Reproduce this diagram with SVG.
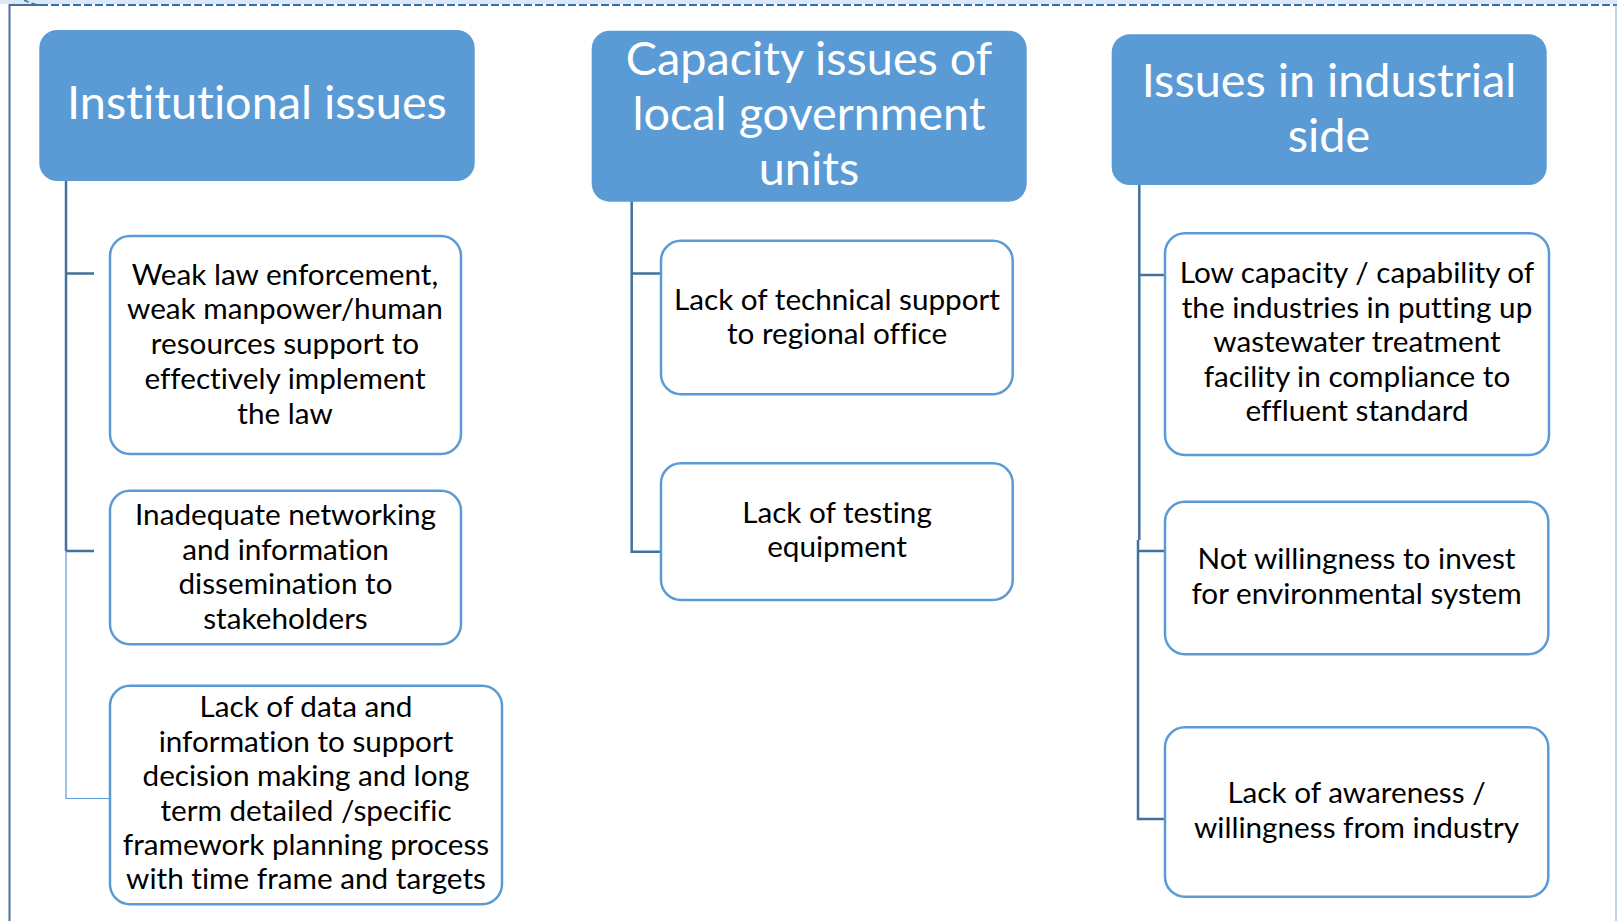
<svg xmlns="http://www.w3.org/2000/svg" width="1617" height="921" viewBox="0 0 1617 921">
  <style>
    text { font-variant-ligatures: none; font-feature-settings: "liga" 0, "clig" 0, "dlig" 0; }
    .hdr { fill: #5B9BD5; }
    .hdrt { fill: #FFFFFF; font-family: Lato, "Open Sans", sans-serif; font-size: 46.8px; text-anchor: middle; }
    .box { fill: #FFFFFF; stroke: #5B9BD5; stroke-width: 2.5; }
    .bt { fill: #000000; font-family: Lato, "Open Sans", sans-serif; font-size: 29.7px; text-anchor: middle; }
    .conn { fill: none; stroke: #41719C; stroke-width: 2.5; }
    .thin { fill: none; stroke: #5B9BD5; stroke-width: 1.2; }
  </style>
  <rect x="0" y="0" width="1617" height="921" fill="#FFFFFF"/>
  <g id="frame">
    <rect x="0" y="0" width="1617" height="4" fill="#DCE8F5"/>
    <line x1="40" y1="5" x2="1617" y2="5" stroke="#2E75B6" stroke-width="2" stroke-dasharray="8 3"/>
    <path d="M24 0 Q34 5 42 5" fill="none" stroke="#2E75B6" stroke-width="1.5" stroke-dasharray="5 3"/>
    <polyline points="40,5 9.5,5 9.5,921" fill="none" stroke="#4A6F9A" stroke-width="2"/>
    <line x1="1616" y1="5" x2="1616" y2="921" stroke="#9DB9DD" stroke-width="1.2"/>
  </g>
  <g id="connectors">
    <path class="conn" d="M66 169 V551 M66 273.5 H94 M66 551 H94"/>
    <path class="thin" d="M66 551 V798.5 H110"/>
    <path class="conn" d="M631.7 169 V551.7 H660 M631.7 273.5 H660"/>
    <path class="conn" d="M1139.3 170 V540 M1138 540 V819 H1165 M1139.3 275 H1165 M1138 551 H1165"/>
  </g>
  <g id="h1">
    <rect class="hdr" x="39.3" y="30" width="435.4" height="151" rx="18"/>
    <text class="hdrt" x="257" y="119.3">Institutional issues</text>
  </g>
  <g id="h2">
    <rect class="hdr" x="591.7" y="30.7" width="435" height="171" rx="18"/>
    <text class="hdrt" x="809" y="75">Capacity issues of</text>
    <text class="hdrt" x="809" y="130">local government</text>
    <text class="hdrt" x="809" y="185">units</text>
  </g>
  <g id="h3">
    <rect class="hdr" x="1111.7" y="34.3" width="435" height="150.7" rx="18"/>
    <text class="hdrt" x="1329" y="96.7">Issues in industrial</text>
    <text class="hdrt" x="1329" y="151.7">side</text>
  </g>
  <g id="n1">
    <rect class="box" x="110" y="236" width="351" height="218" rx="20"/>
    <text class="bt" x="285" y="284.5">Weak law enforcement,</text>
    <text class="bt" x="285" y="319.3">weak manpower/human</text>
    <text class="bt" x="285" y="354">resources support to</text>
    <text class="bt" x="285" y="388.8">effectively implement</text>
    <text class="bt" x="285" y="423.6">the law</text>
  </g>
  <g id="n2">
    <rect class="box" x="110" y="490.7" width="351" height="153.6" rx="20"/>
    <text class="bt" x="285.5" y="525">Inadequate networking</text>
    <text class="bt" x="285.5" y="560">and information</text>
    <text class="bt" x="285.5" y="594">dissemination to</text>
    <text class="bt" x="285.5" y="629">stakeholders</text>
  </g>
  <g id="n3">
    <rect class="box" x="110" y="685.7" width="392" height="218.6" rx="20"/>
    <text class="bt" x="306" y="716.7">Lack of data and</text>
    <text class="bt" x="306" y="751.7">information to support</text>
    <text class="bt" x="306" y="786">decision making and long</text>
    <text class="bt" x="306" y="820.7">term detailed /specific</text>
    <text class="bt" x="306" y="855">framework planning process</text>
    <text class="bt" x="306" y="889.3">with time frame and targets</text>
  </g>
  <g id="n4">
    <rect class="box" x="661" y="240.7" width="351.7" height="153.6" rx="20"/>
    <text class="bt" x="837" y="310">Lack of technical support</text>
    <text class="bt" x="837" y="343.5">to regional office</text>
  </g>
  <g id="n5">
    <rect class="box" x="661" y="463.3" width="351.7" height="136.7" rx="20"/>
    <text class="bt" x="837" y="523.3">Lack of testing</text>
    <text class="bt" x="837" y="557.3">equipment</text>
  </g>
  <g id="n6">
    <rect class="box" x="1165" y="233.3" width="384" height="221.7" rx="20"/>
    <text class="bt" x="1357" y="283.3">Low capacity / capability of</text>
    <text class="bt" x="1357" y="318.3">the industries in putting up</text>
    <text class="bt" x="1357" y="351.7">wastewater treatment</text>
    <text class="bt" x="1357" y="386.7">facility in compliance to</text>
    <text class="bt" x="1357" y="421">effluent standard</text>
  </g>
  <g id="n7">
    <rect class="box" x="1165" y="501.7" width="383.3" height="152.6" rx="20"/>
    <text class="bt" x="1356.5" y="569.3">Not willingness to invest</text>
    <text class="bt" x="1356.5" y="604.3">for environmental system</text>
  </g>
  <g id="n8">
    <rect class="box" x="1165" y="727.3" width="383.3" height="169.4" rx="20"/>
    <text class="bt" x="1356.5" y="802.7">Lack of awareness /</text>
    <text class="bt" x="1356.5" y="837.7">willingness from industry</text>
  </g>
</svg>
